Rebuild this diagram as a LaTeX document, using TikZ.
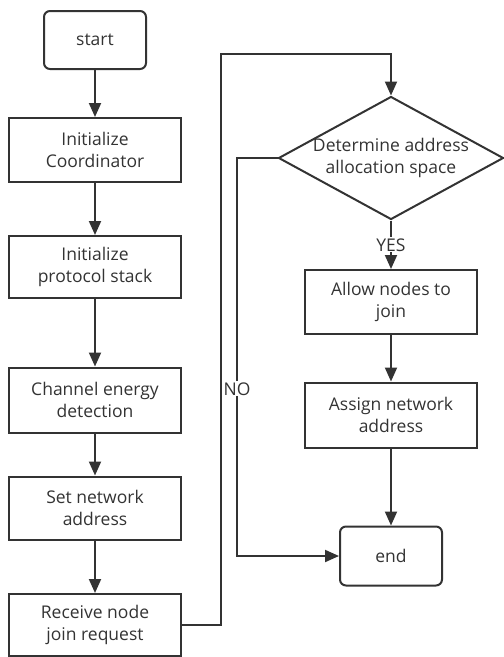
\documentclass[tikz,border=0pt]{standalone}
\usepackage{fontspec}
\setmainfont{Open Sans}
\usetikzlibrary{arrows.meta,shapes.geometric}
\definecolor{ink}{HTML}{333333}
\tikzset{
  stepbox/.style={draw=ink,line width=2pt,minimum width=172pt,minimum height=64pt,
    align=center,text=ink,inner sep=2pt},
  termbox/.style={stepbox,rounded corners=6pt,minimum width=102pt,minimum height=58pt},
  decbox/.style={draw=ink,line width=2pt,shape=diamond,minimum width=225pt,
    minimum height=123pt,inner sep=0pt},
  flow/.style={draw=ink,line width=2pt,-{Triangle[length=14pt,width=12pt]}},
  tag/.style={fill=white,text=ink,inner sep=1pt}
}
\begin{document}
\begin{tikzpicture}
    [x=1pt,y=-1pt,font=\fontsize{17.5}{22}\selectfont]

    \useasboundingbox (0,0) rectangle (504,657);

    % left column:
    \node (start) at (95, 40) [termbox] {start};
    \node (initco) at (95, 150) [stepbox] {Initialize\\Coordinator};
    \node (initps) at (95, 267) [stepbox,minimum height=62pt] {Initialize\\protocol stack};
    \node (energy) at (95, 400) [stepbox,minimum height=65pt] {Channel energy\\detection};
    \node (setaddr) at (95, 508) [stepbox,minimum height=63pt] {Set network\\address};
    \node (request) at (95, 625) [stepbox,minimum height=62pt] {Receive node\\join request};

    % right column:
    \node (space) at (391, 158) [decbox,label={[text=ink,align=center]center:Determine address\\allocation space}] {};
    \node (allow) at (391, 302) [stepbox] {Allow nodes to\\join};
    \node (assign) at (391, 415) [stepbox,minimum height=65pt] {Assign network\\address};
    \node (end) at (391, 556) [termbox,minimum height=59pt] {end};

    % bends:
    \coordinate (c1) at (221, 625);
    \coordinate (c2) at (221, 54);
    \coordinate (c3) at (391, 54);
    \coordinate (n1) at (237, 158);
    \coordinate (n2) at (237, 556);

    % connect nodes:
    \draw [flow] (start) to (initco);
    \draw [flow] (initco) to (initps);
    \draw [flow] (initps) to (energy);
    \draw [flow] (energy) to (setaddr);
    \draw [flow] (setaddr) to (request);
    \draw [flow] (request.east) -- (c1) -- (c2) -- (c3) -- (space.north);
    \draw [flow] (space) to node [tag] {YES} (allow);
    \draw [flow] (allow) to (assign);
    \draw [flow] (assign) to (end);
    \draw [flow] (space.west) -- (n1) -- node [tag,pos=0.58] {NO} (n2) -- (end.west);

  \end{tikzpicture}
\end{document}
